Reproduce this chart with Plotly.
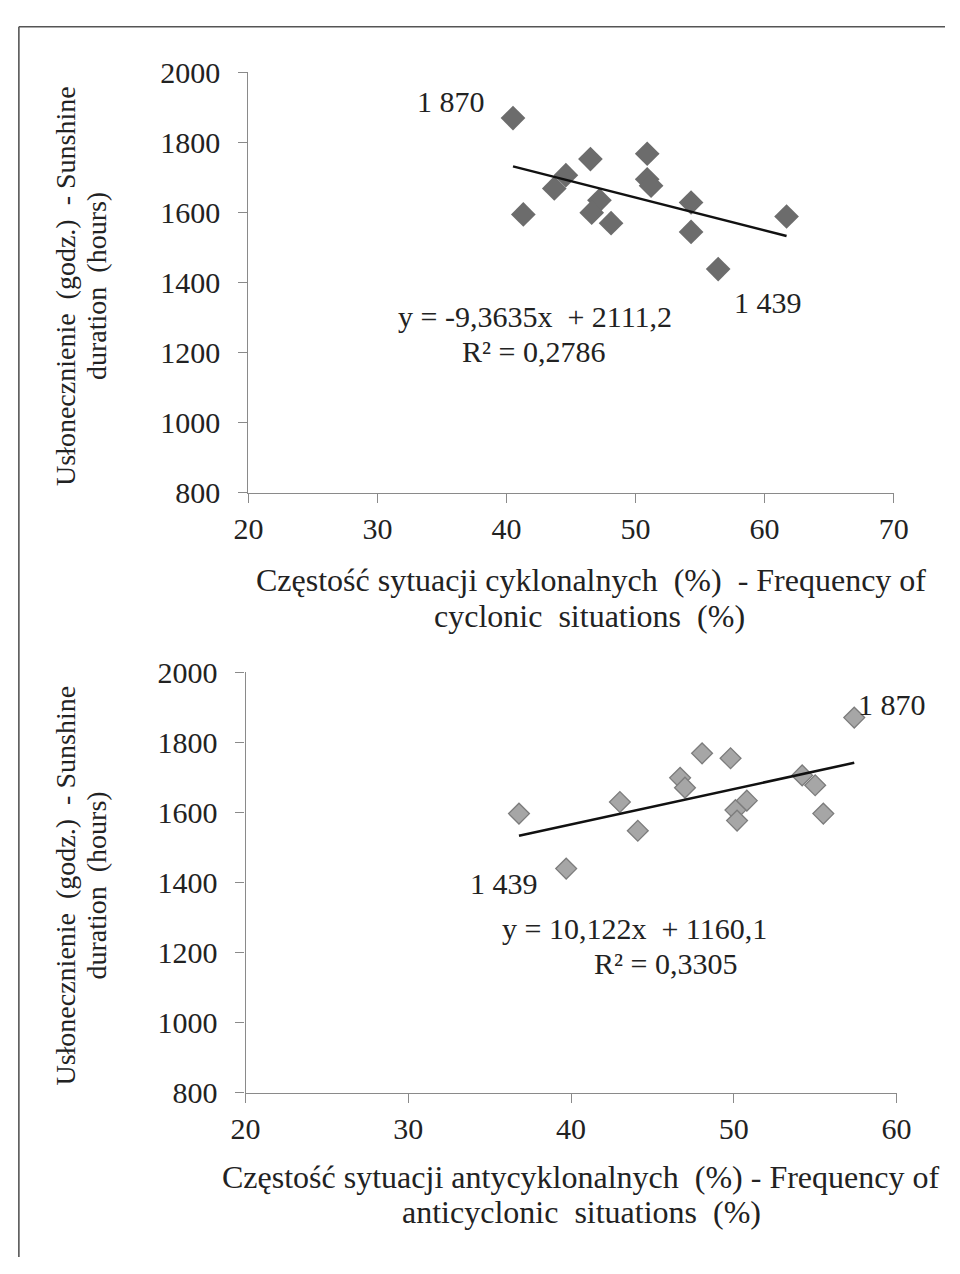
import plotly.graph_objects as go

W, H = 960, 1274

# Top chart: cyclonic frequency vs sunshine
cyc_x = [40.5, 46.5, 50.9, 44.6, 43.7, 50.9, 51.2, 41.3, 47.2, 46.6, 48.1, 54.3, 54.3, 56.4, 61.7]
cyc_y = [1870, 1753, 1768, 1707, 1669, 1695, 1677, 1595, 1635, 1600, 1570, 1629, 1545, 1439, 1589]
cyc_slope, cyc_intercept = -9.3635, 2111.2

# Bottom chart: anticyclonic frequency vs sunshine
anti_x = [36.8, 39.7, 43.0, 44.1, 46.7, 47.0, 48.05, 49.8, 50.8, 50.1, 50.2, 54.2, 55.0, 55.5, 57.4]
anti_y = [1596, 1439, 1629, 1547, 1698, 1670, 1768, 1754, 1633, 1606, 1576, 1705, 1677, 1596, 1870]
anti_slope, anti_intercept = 10.122, 1160.1

y_ticks = [800, 1000, 1200, 1400, 1600, 1800, 2000]
x_ticks_top = [20, 30, 40, 50, 60, 70]
x_ticks_bot = [20, 30, 40, 50, 60]

FONT = "Liberation Serif"
TXT = "#222222"


def px_x(p):
    return p / W


def px_y(p):
    return 1 - p / H


fig = go.Figure()

fig.add_trace(go.Scatter(
    x=cyc_x, y=cyc_y, mode="markers", xaxis="x", yaxis="y",
    marker=dict(symbol="diamond", size=19, color="#6c6c6c", line=dict(width=0)),
    showlegend=False, hoverinfo="skip"))
tx = [min(cyc_x), max(cyc_x)]
fig.add_trace(go.Scatter(
    x=tx, y=[cyc_slope * v + cyc_intercept for v in tx], mode="lines",
    xaxis="x", yaxis="y", line=dict(color="#111111", width=2.5),
    showlegend=False, hoverinfo="skip"))

fig.add_trace(go.Scatter(
    x=anti_x, y=anti_y, mode="markers", xaxis="x2", yaxis="y2",
    marker=dict(symbol="diamond", size=16, color="#a6a6a6",
                line=dict(width=1.3, color="#7c7c7c")),
    showlegend=False, hoverinfo="skip"))
bx = [min(anti_x), max(anti_x)]
fig.add_trace(go.Scatter(
    x=bx, y=[anti_slope * v + anti_intercept for v in bx], mode="lines",
    xaxis="x2", yaxis="y2", line=dict(color="#111111", width=2.5),
    showlegend=False, hoverinfo="skip"))

axis_common = dict(
    showgrid=False, zeroline=False, showline=True, linecolor="#8a8a8a",
    linewidth=1.3, ticks="outside", tickcolor="#8a8a8a", ticklen=9,
    tickwidth=1.3, tickfont=dict(family=FONT, size=30, color=TXT))

fig.update_layout(
    width=W, height=H,
    margin=dict(l=0, r=0, t=0, b=0, pad=0),
    paper_bgcolor="white", plot_bgcolor="white",
    xaxis=dict(domain=[px_x(241), px_x(907)], range=[20, 70], tickvals=x_ticks_top,
               anchor="y", ticklabelstandoff=0, **axis_common),
    yaxis=dict(domain=[px_y(489), px_y(57)], range=[800, 2000], tickvals=y_ticks,
               anchor="x", ticklabelstandoff=12, **axis_common),
    xaxis2=dict(domain=[px_x(238), px_x(910)], range=[20, 60], tickvals=x_ticks_bot,
                anchor="y2", ticklabelstandoff=0, **axis_common),
    yaxis2=dict(domain=[px_y(1105), px_y(673)], range=[800, 2000], tickvals=y_ticks,
                anchor="x2", ticklabelstandoff=12, **axis_common),
)

ann_font = dict(family=FONT, size=30, color=TXT)
annotations = [
    dict(x=35.7, y=1917, xref="x", yref="y", text="1 870"),
    dict(x=60.3, y=1344, xref="x", yref="y", text="1 439"),
    dict(x=42.2, y=1253, xref="x", yref="y", text="y = -9,3635x  + 2111,2", yanchor="bottom"),
    dict(x=42.1, y=1253, xref="x", yref="y", text="R² = 0,2786", yanchor="top"),
    dict(x=59.7, y=1908, xref="x2", yref="y2", text="1 870"),
    dict(x=35.9, y=1397, xref="x2", yref="y2", text="1 439"),
    dict(x=43.9, y=1219, xref="x2", yref="y2", text="y = 10,122x  + 1160,1", yanchor="bottom"),
    dict(x=45.8, y=1219, xref="x2", yref="y2", text="R² = 0,3305", yanchor="top"),
]
for a in annotations:
    a.update(showarrow=False, font=ann_font, borderpad=0)

title_font = dict(family=FONT, size=32, color=TXT)
ytitle_font = dict(family=FONT, size=28, color=TXT)
titles = [
    dict(x=px_x(595), y=px_y(578), text="Częstość sytuacji cyklonalnych  (%)  - Frequency of", font=title_font),
    dict(x=px_x(593), y=px_y(615), text="cyclonic  situations  (%)", font=title_font),
    dict(x=px_x(584), y=px_y(1192), text="Częstość sytuacji antycyklonalnych  (%) - Frequency of", font=title_font),
    dict(x=px_x(585), y=px_y(1228), text="anticyclonic  situations  (%)", font=title_font),
    dict(x=px_x(52), y=px_y(276), text="Usłonecznienie  (godz.)  - Sunshine", textangle=-90, font=ytitle_font),
    dict(x=px_x(84), y=px_y(276), text="duration  (hours)", textangle=-90, font=ytitle_font),
    dict(x=px_x(52), y=px_y(892), text="Usłonecznienie  (godz.)  - Sunshine", textangle=-90, font=ytitle_font),
    dict(x=px_x(84), y=px_y(892), text="duration  (hours)", textangle=-90, font=ytitle_font),
]
for t in titles:
    t.update(xref="paper", yref="paper", showarrow=False,
             xanchor="center", yanchor="middle")

fig.update_layout(annotations=annotations + titles)

# outer frame: left and top border lines as in the scan
fig.add_shape(type="line", xref="paper", yref="paper",
              x0=px_x(4), x1=1, y0=px_y(10), y1=px_y(10),
              line=dict(color="#555555", width=1.6))
fig.add_shape(type="line", xref="paper", yref="paper",
              x0=px_x(4), x1=px_x(4), y0=0, y1=px_y(10),
              line=dict(color="#555555", width=1.6))

fig.write_html(
    "out.html",
    config={"displayModeBar": False},
    post_script=(
        "document.documentElement.style.margin='0px';"
        "document.documentElement.style.padding='0px';"
        "document.body.style.margin='0px';document.body.style.padding='0px';"
        "document.body.style.overflow='hidden';"
        "var d=document.getElementsByClassName('plotly-graph-div')[0];"
        "d.style.position='fixed';d.style.left='0px';d.style.top='0px';"
    ))
